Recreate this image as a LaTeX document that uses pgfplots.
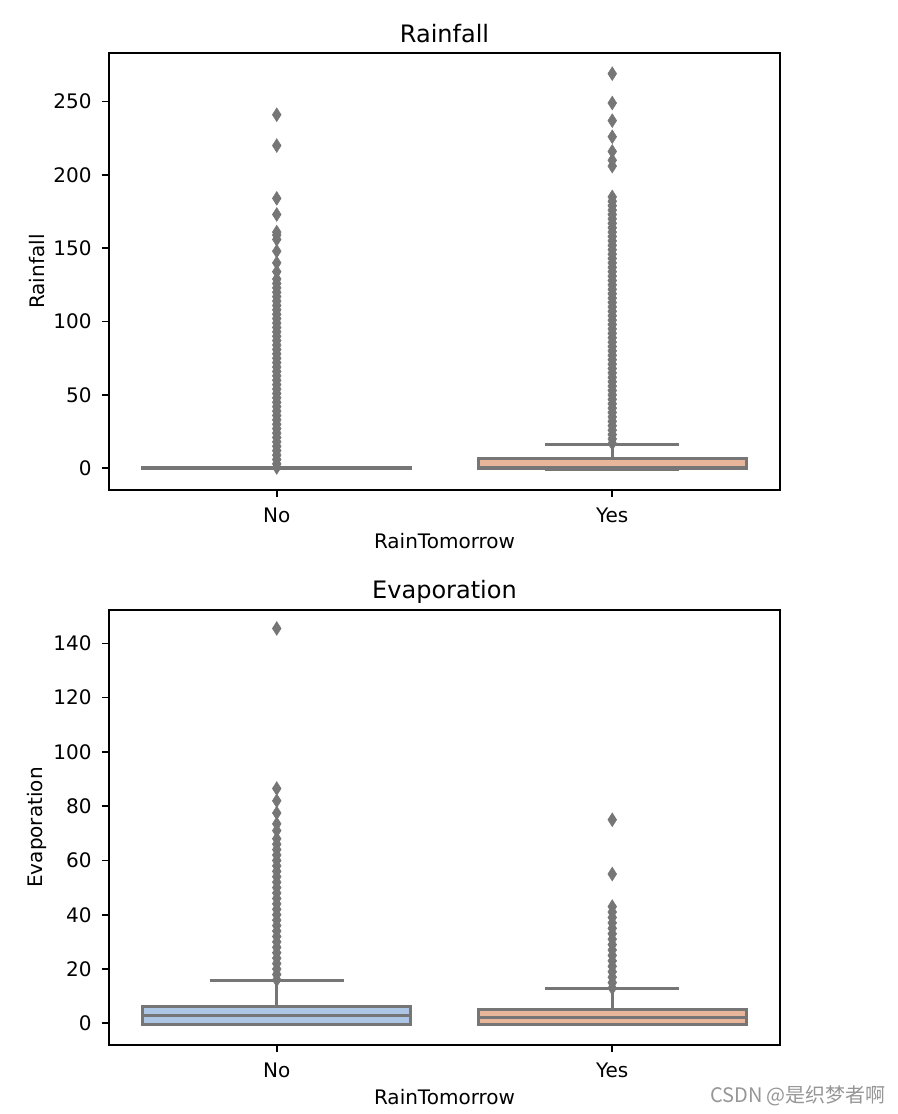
\documentclass[border=0pt]{standalone}
\usepackage{fontspec}
\setmainfont{DejaVu Sans}
\newfontfamily\cjk{Noto Sans CJK SC}
\usepackage{pgfplots}
\pgfplotsset{compat=1.18}
\usepgfplotslibrary{statistics}

\definecolor{boxgray}{RGB}{118,118,118}
\definecolor{boxblue}{RGB}{174,198,230}
\definecolor{boxorange}{RGB}{232,182,155}
\definecolor{wmgray}{RGB}{150,150,150}

\pgfplotsset{
  mystyle/.style={
    scale only axis, width=335.5pt,
    xmin=-0.5, xmax=1.5, xtick={0,1}, xticklabels={No,Yes},
    tick align=outside, major tick length=3.5pt,
    xtick pos=lower, ytick pos=left,
    tick style={black, line width=0.8pt},
    axis line style={black, line width=0.8pt},
    tick label style={font=\fontsize{10}{12}\selectfont, inner sep=0pt},
    xticklabel shift=5.5pt, yticklabel shift=5pt,
    label style={font=\fontsize{10}{12}\selectfont, inner sep=0pt},
    title style={font=\fontsize{12}{14}\selectfont, at={(0.5,1)}, anchor=base, yshift=-0.5pt},
    /pgf/number format/assume math mode=true,
    xlabel=RainTomorrow,
    ylabel style={at={(axis description cs:-0.1073,0.5)}, anchor=center},
    boxplot/draw direction=y,
  },
  flier/.style={only marks, mark=diamond*, mark size=3.4pt,
    mark options={fill=boxgray, draw=boxgray, line width=0.3pt, xscale=0.85}},
  bx/.style={draw=boxgray, line width=1.5pt, solid,
    boxplot/every whisker/.style={draw=boxgray, line width=1.5pt},
    boxplot/every median/.style={draw=boxgray, line width=1.5pt},
    boxplot/every box/.style={draw=boxgray, line width=1.5pt}},
}

\begin{document}
\begin{tikzpicture}
\useasboundingbox (0,0) rectangle (449pt,557pt);

% ---------------- Rainfall ----------------
\begin{axis}[mystyle,
  at={(54.5pt,312pt)}, anchor=south west, height=218.35pt,
  ymin=-14.8, ymax=282.9, ytick={0,50,100,150,200,250},
  title=Rainfall, ylabel=Rainfall,
  xlabel style={at={(axis description cs:0.5,-0.117)}, anchor=center},
]
\addplot[bx, fill=boxblue, boxplot prepared={draw position=0,
  lower whisker=0, lower quartile=0, median=0, upper quartile=0.2,
  upper whisker=0.5, box extend=0.8, whisker extend=0.4}] coordinates {};
\addplot[bx, fill=boxorange, boxplot prepared={draw position=1,
  lower whisker=-0.6, lower quartile=0, median=0.2, upper quartile=6.6,
  upper whisker=16, box extend=0.8, whisker extend=0.4}] coordinates {};
% outliers No
\addplot[flier] coordinates {
(0,0.6)(0,3)(0,6)(0,9)(0,12)(0,15)(0,18)(0,21)(0,24)(0,27)(0,30)(0,33)(0,36)
(0,39)(0,42)(0,45)(0,48)(0,51)(0,54)(0,57)(0,60)(0,63)(0,66)(0,69)(0,72)(0,75)
(0,78)(0,81)(0,84)(0,87)(0,90)(0,93)(0,96)(0,99)(0,102)(0,105)(0,108)(0,111)
(0,114)(0,117)(0,120)(0,123)(0,126)(0,129)(0,134)(0,140)(0,148)(0,156)(0,159)
(0,161)(0,173)(0,184)(0,220)(0,241)};
% outliers Yes
\addplot[flier] coordinates {
(1,17)(1,20)(1,23)(1,26)(1,29)(1,32)(1,35)(1,38)(1,41)(1,44)(1,47)(1,50)(1,53)
(1,56)(1,59)(1,62)(1,65)(1,68)(1,71)(1,74)(1,77)(1,80)(1,83)(1,86)(1,89)(1,92)
(1,95)(1,98)(1,101)(1,104)(1,107)(1,110)(1,113)(1,116)(1,119)(1,122)(1,125)
(1,128)(1,131)(1,134)(1,137)(1,140)(1,143)(1,146)(1,149)(1,152)(1,155)(1,158)
(1,161)(1,164)(1,167)(1,170)(1,173)(1,176)(1,179)(1,182)(1,185)
(1,206)(1,210)(1,216)(1,226)(1,237)(1,249)(1,269)};
\end{axis}

% ---------------- Evaporation ----------------
\begin{axis}[mystyle,
  at={(54.5pt,34.5pt)}, anchor=south west, height=217.5pt,
  ymin=-8.0, ymax=152.3, ytick={0,20,40,60,80,100,120,140},
  title=Evaporation, ylabel=Evaporation,
  xlabel style={at={(axis description cs:0.5,-0.1195)}, anchor=center},
]
\addplot[bx, fill=boxblue, boxplot prepared={draw position=0,
  lower whisker=-0.5, lower quartile=-0.5, median=2.7, upper quartile=6.1,
  upper whisker=15.7, box extend=0.8, whisker extend=0.4}] coordinates {};
\addplot[bx, fill=boxorange, boxplot prepared={draw position=1,
  lower whisker=-0.5, lower quartile=-0.5, median=2.2, upper quartile=4.9,
  upper whisker=12.7, box extend=0.8, whisker extend=0.4}] coordinates {};
% outliers No
\addplot[flier] coordinates {
(0,16)(0,18)(0,20)(0,22)(0,24)(0,26)(0,28)(0,30)(0,32)(0,34)(0,36)(0,38)(0,40)
(0,42)(0,44)(0,46)(0,48)(0,50)(0,52)(0,54)(0,56)(0,58)(0,60)(0,62)(0,64)(0,66)
(0,68)(0,71)(0,73.5)(0,77.5)(0,82)(0,86.5)(0,145.5)};
% outliers Yes
\addplot[flier] coordinates {
(1,13)(1,15)(1,17)(1,19)(1,21)(1,23)(1,25)(1,27)(1,29)(1,31)(1,33)(1,35)(1,37)
(1,39)(1,41)(1,43)(1,55)(1,75)};
\end{axis}

\node[font=\cjk\fontsize{10}{12}\selectfont, text=wmgray] at (399pt,9pt) {CSDN @是织梦者啊};
\end{tikzpicture}
\end{document}
